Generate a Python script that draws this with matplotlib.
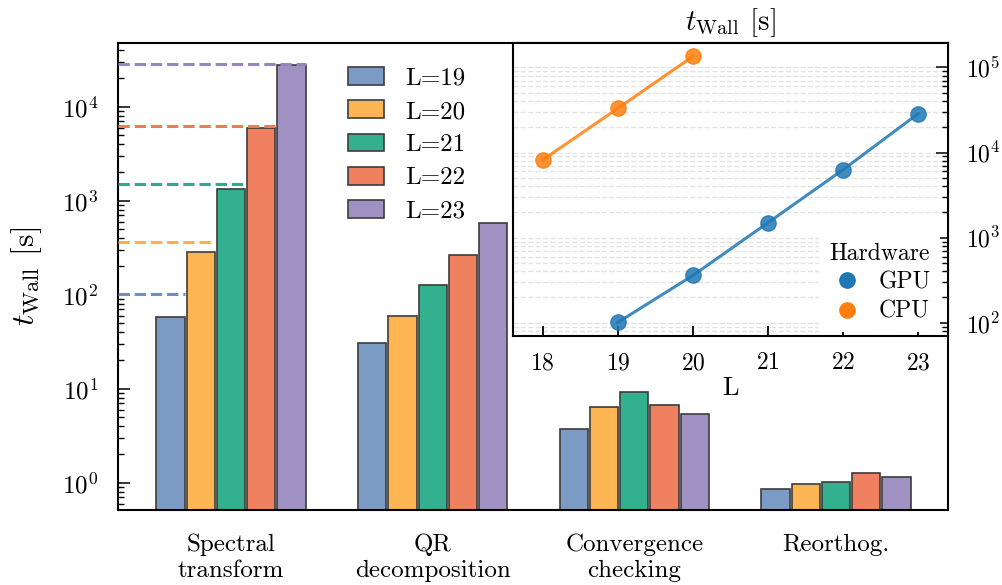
import matplotlib
matplotlib.use('Agg')
import matplotlib.pyplot as plt
import numpy as np
from matplotlib.lines import Line2D

plt.rcParams.update({
    'font.family': 'serif',
    'font.serif': ['cmr10'],
    'mathtext.fontset': 'cm',
    'axes.formatter.use_mathtext': True,
    'axes.unicode_minus': False,
})

# ---------------- data ----------------
categories = ['Spectral\ntransform', 'QR\ndecomposition', 'Convergence\nchecking', 'Reorthog.']
L_labels = ['L=19', 'L=20', 'L=21', 'L=22', 'L=23']
spectral = [58.6, 285, 1334, 5970, 28100]
qr = [30.4, 59.3, 128, 267, 582]
convergence = [3.75, 6.44, 9.22, 6.71, 5.42]
reorthog = [0.85, 0.97, 1.02, 1.28, 1.14]

gpu_L = [19, 20, 21, 22, 23]
gpu_time = [101, 360, 1500, 6300, 28700]
cpu_L = [18, 19, 20]
cpu_time = [8200, 33000, 135000]

bar_colors = ['#7b9bc4', '#feb553', '#33b08e', '#f08160', '#9f92c3']
dash_colors = ['#6f8fc0', '#ffb04a', '#2aad89', '#ef7a57', '#9486c0']

# ---------------- figure ----------------
fig = plt.figure(figsize=(10.03, 5.85), dpi=100)
ax = fig.add_axes([0.1176, 0.1282, 0.8276, 0.7983])
ax.set_yscale('log')

x = np.arange(len(categories))
pitch = 0.15
width = 0.14
xmin, xmax = -0.56, 3.555
for i, lab in enumerate(L_labels):
    vals = [spectral[i], qr[i], convergence[i], reorthog[i]]
    off = (i - 2) * pitch
    ax.bar(x + off, vals, width=width, color=bar_colors[i], edgecolor='#3c3c3c',
           linewidth=1.2, label=lab, zorder=2)
    ax.hlines(gpu_time[i], xmin, x[0] + off + width / 2, colors=dash_colors[i],
              linestyles='--', linewidth=2.2, zorder=3)

ax.set_xlim(xmin, xmax)
ax.set_ylim(0.513, 4.76e4)
ax.set_xticks(x)
ax.set_xticklabels(categories, fontsize=18)
ax.tick_params(axis='x', length=0, pad=17)
ax.tick_params(axis='y', which='both', direction='in', left=True, right=False,
               labelsize=18, pad=14)
ax.tick_params(axis='y', which='major', length=8.5, width=1.1)
ax.tick_params(axis='y', which='minor', length=4.5, width=1.0)
for s in ax.spines.values():
    s.set_linewidth(1.5)
ax.set_ylabel(r'$t_{\rm Wall}$ [s]', fontsize=23, labelpad=13)

ax.legend(loc='upper left', bbox_to_anchor=(0.277, 0.948), frameon=False, fontsize=18,
          handlelength=1.45, handleheight=0.72, handletextpad=0.85, labelspacing=0.42,
          borderpad=0, borderaxespad=0)

# ---------------- inset ----------------
axin = fig.add_axes([0.5112, 0.4262, 0.4343, 0.5003])
axin.set_facecolor('white')
axin.set_yscale('log')
axin.plot(gpu_L, gpu_time, '-o', color='#1f77b4', alpha=0.85, lw=2.2, ms=11, zorder=3)
axin.plot(cpu_L, cpu_time, '-o', color='#ff7f0e', alpha=0.85, lw=2.2, ms=11, zorder=3)
axin.set_xlim(17.6, 23.4)
axin.set_xticks(range(18, 24))
axin.yaxis.tick_right()
axin.tick_params(axis='x', which='both', direction='in', length=7.5, width=1.3,
                 labelsize=17, pad=12, top=False)
axin.tick_params(axis='y', which='both', direction='in', labelsize=17, pad=13,
                 left=False, right=True)
axin.tick_params(axis='y', which='major', length=8.5, width=1.1)
axin.tick_params(axis='y', which='minor', length=4.5, width=1.0)
for s in axin.spines.values():
    s.set_linewidth(1.5)
axin.grid(True, which='both', axis='y', ls='--', color='#e3e3e3', lw=1.0)
axin.set_axisbelow(True)
axin.xaxis.set_zorder(1.0)  # x tick marks above the y grid
axin.set_xlabel('L', fontsize=19, labelpad=1)
axin.set_title(r'$t_{\rm Wall}$ [s]', fontsize=21, pad=9)

handles = [Line2D([], [], marker='o', ls='', color='#1f77b4', ms=11),
           Line2D([], [], marker='o', ls='', color='#ff7f0e', ms=11)]
leg = axin.legend(handles, ['GPU', 'CPU'], title='Hardware', loc='lower right',
                  bbox_to_anchor=(1.0, -0.017),
                  fontsize=17, title_fontsize=17, frameon=True, framealpha=1,
                  edgecolor='white', fancybox=False, handlelength=1.5,
                  handletextpad=0.6, labelspacing=0.3, borderpad=0.4,
                  borderaxespad=0.35)
leg.get_frame().set_linewidth(0)

fig.savefig('out.png', dpi=100)
